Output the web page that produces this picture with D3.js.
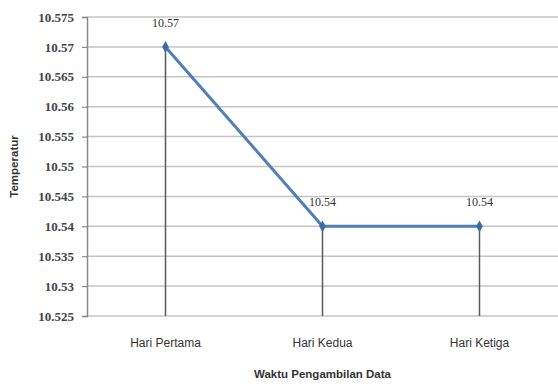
<!DOCTYPE html>
<html>
<head>
<meta charset="utf-8">
<script src="https://cdn.jsdelivr.net/npm/d3@7"></script>
<style>
  html, body { margin: 0; padding: 0; background: #fff; }
  svg { display: block; }
</style>
</head>
<body>
<script>
// Temperature readings per sampling day
const categories = ["Hari Pertama", "Hari Kedua", "Hari Ketiga"];
const values = [10.57, 10.54, 10.54];
const yTicks = [10.525, 10.53, 10.535, 10.54, 10.545, 10.55, 10.555, 10.56, 10.565, 10.57, 10.575];
const yTitle = "Temperatur";
const xTitle = "Waktu Pengambilan Data";

const W = 558, H = 386;
const m = { top: 17, right: 0, bottom: 70, left: 87 };

const svg = d3.select("body").append("svg")
  .attr("width", W).attr("height", H);

const x = d3.scaleBand().domain(categories)
  .range([m.left, W - m.right]).padding(0);
const y = d3.scaleLinear().domain([10.525, 10.575])
  .range([H - m.bottom, m.top]);

const serif = "'Liberation Serif', 'DejaVu Serif', serif";
const sans = "'Liberation Sans Narrow', 'Liberation Sans', Arial, sans-serif";

// horizontal gridlines
svg.append("g").selectAll("line").data(yTicks).join("line")
  .attr("x1", m.left).attr("x2", W - m.right)
  .attr("y1", d => y(d)).attr("y2", d => y(d))
  .attr("stroke", "#c4c4c4").attr("stroke-width", 1.5);

// y axis
const yAxis = svg.append("g")
  .attr("transform", `translate(${m.left},0)`)
  .call(d3.axisLeft(y).tickValues(yTicks).tickSize(5).tickPadding(8)
    .tickFormat(d => d3.format("")(+d.toFixed(3))));
yAxis.select(".domain").attr("stroke", "#8a8a8a").attr("stroke-width", 1.5);
yAxis.selectAll(".tick line").attr("stroke", "#8a8a8a").attr("stroke-width", 1.2);
yAxis.selectAll(".tick text")
  .style("font-family", serif).style("font-size", "13px")
  .style("font-weight", "bold").attr("fill", "#444");

// drop lines from each point to the axis floor
svg.append("g").selectAll("line").data(values).join("line")
  .attr("x1", (d, i) => x(categories[i]) + x.bandwidth() / 2)
  .attr("x2", (d, i) => x(categories[i]) + x.bandwidth() / 2)
  .attr("y1", d => y(d)).attr("y2", y(10.525))
  .attr("stroke", "#5a5a5a").attr("stroke-width", 1.5);

// series line
const line = d3.line()
  .x((d, i) => x(categories[i]) + x.bandwidth() / 2)
  .y(d => y(d));
svg.append("path").datum(values)
  .attr("d", line)
  .attr("fill", "none").attr("stroke", "#4f7fb5").attr("stroke-width", 3);

// diamond markers
svg.append("g").selectAll("path").data(values).join("path")
  .attr("d", d3.symbol(d3.symbolDiamond, 40))
  .attr("transform", (d, i) => `translate(${x(categories[i]) + x.bandwidth() / 2},${y(d)})`)
  .attr("fill", "#3f6c9e");

// value labels
svg.append("g").selectAll("text").data(values).join("text")
  .attr("x", (d, i) => x(categories[i]) + x.bandwidth() / 2)
  .attr("y", d => y(d) - 20)
  .attr("text-anchor", "middle")
  .style("font-family", serif).style("font-size", "12px")
  .attr("fill", "#333")
  .text(d => d.toFixed(2));

// category labels
svg.append("g").selectAll("text").data(categories).join("text")
  .attr("x", d => x(d) + x.bandwidth() / 2)
  .attr("y", H - m.bottom + 31)
  .attr("text-anchor", "middle")
  .style("font-family", sans).style("font-size", "12px")
  .attr("fill", "#333")
  .text(d => d);

// axis titles
svg.append("text")
  .attr("x", x(categories[1]) + x.bandwidth() / 2)
  .attr("y", H - 8)
  .attr("text-anchor", "middle")
  .style("font-family", sans).style("font-size", "11.5px").style("font-weight", "bold")
  .attr("fill", "#333")
  .text(xTitle);

svg.append("text")
  .attr("transform", `translate(18,${(y.range()[0] + y.range()[1]) / 2}) rotate(-90)`)
  .attr("text-anchor", "middle")
  .style("font-family", sans).style("font-size", "11.5px").style("font-weight", "bold")
  .attr("fill", "#333")
  .text(yTitle);
</script>
</body>
</html>
